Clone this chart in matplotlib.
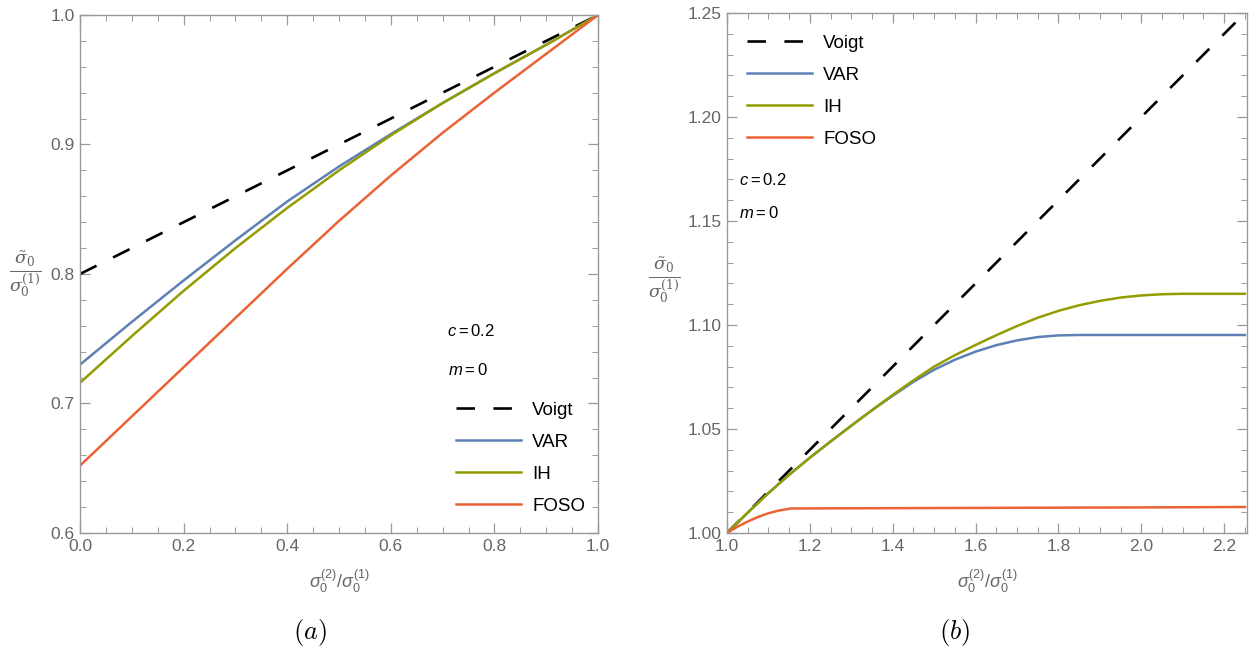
import matplotlib
matplotlib.use("Agg")
import matplotlib.pyplot as plt
from matplotlib.ticker import MultipleLocator, FormatStrFormatter

# ---------------- data ----------------
# panel (a)
xa = [0.0, 0.1, 0.2, 0.3, 0.4, 0.5, 0.6, 0.7, 0.8, 0.9, 1.0]
voigt_a_x = [0.0, 1.0]
voigt_a = [0.8, 1.0]
var_a = [0.730, 0.763, 0.795, 0.826, 0.856, 0.883, 0.908, 0.932, 0.955, 0.977, 1.0]
ih_a = [0.716, 0.752, 0.787, 0.820, 0.851, 0.880, 0.907, 0.932, 0.955, 0.977, 1.0]
foso_a = [0.652, 0.690, 0.728, 0.766, 0.804, 0.841, 0.876, 0.909, 0.940, 0.970, 1.0]

# panel (b)
xb = [1.0, 1.05, 1.1, 1.15, 1.2, 1.25, 1.3, 1.35, 1.4, 1.45, 1.5, 1.55, 1.6,
      1.65, 1.7, 1.75, 1.8, 1.85, 1.9, 1.95, 2.0, 2.05, 2.1, 2.2, 2.25]
voigt_b_x = [1.0, 2.25]
voigt_b = [1.0, 1.25]
var_b = [1.0, 1.0098, 1.0192, 1.0280, 1.0362, 1.0440, 1.0516, 1.0590, 1.0660,
         1.0727, 1.0785, 1.0833, 1.0872, 1.0903, 1.0926, 1.0942, 1.0950, 1.0952,
         1.0952, 1.0952, 1.0952, 1.0952, 1.0952, 1.0952, 1.0952]
ih_b = [1.0, 1.0098, 1.0192, 1.0280, 1.0362, 1.0440, 1.0516, 1.0591, 1.0664,
        1.0734, 1.0800, 1.0855, 1.0904, 1.0951, 1.0995, 1.1035, 1.1068, 1.1095,
        1.1116, 1.1132, 1.1142, 1.1148, 1.1150, 1.1150, 1.1150]
foso_b_x = [1.0, 1.025, 1.05, 1.075, 1.1, 1.125, 1.155, 1.5, 2.0, 2.25]
foso_b = [1.0, 1.0030, 1.0055, 1.0077, 1.0095, 1.0108, 1.0118, 1.0120, 1.0123, 1.0125]

labels = ["Voigt", "VAR", "IH", "FOSO"]
c_text = r"$c=0.2$"
m_text = r"$m=0$"

# ---------------- styling ----------------
C_VAR = "#5E81B5"
C_IH = "#939C00"
C_FOSO = "#EB6235"
FRAME = "#9a9a9a"
TXT = "#666666"

plt.rcParams["font.family"] = ["Liberation Sans", "DejaVu Sans"]
plt.rcParams["mathtext.fontset"] = "custom"
plt.rcParams["mathtext.rm"] = "Liberation Sans"
plt.rcParams["mathtext.it"] = "Liberation Sans:italic"

fig = plt.figure(figsize=(12.55, 6.57), dpi=100)
ax1 = fig.add_axes([80 / 1255, 124 / 657, 518 / 1255, 518 / 657])
ax2 = fig.add_axes([727 / 1255, 124 / 657, 520 / 1255, 520 / 657])

LW = 1.8


def style(ax, xmaj, xmin, ymaj, ymin, fmt_y, ylab_xy):
    for s in ax.spines.values():
        s.set_color(FRAME)
        s.set_linewidth(1.0)
    ax.xaxis.set_major_locator(MultipleLocator(xmaj))
    ax.xaxis.set_minor_locator(MultipleLocator(xmin))
    ax.yaxis.set_major_locator(MultipleLocator(ymaj))
    ax.yaxis.set_minor_locator(MultipleLocator(ymin))
    ax.xaxis.set_major_formatter(FormatStrFormatter("%.1f"))
    ax.yaxis.set_major_formatter(FormatStrFormatter(fmt_y))
    ax.tick_params(which="both", direction="in", top=True, right=True,
                   color=FRAME, labelcolor=TXT, labelsize=12.5)
    ax.tick_params(which="major", length=7, width=0.9, pad=4)
    ax.tick_params(which="minor", length=4, width=0.7)
    ax.set_xlabel(r"$\sigma_0^{(2)}/\sigma_0^{(1)}$", color=TXT, fontsize=13,
                  labelpad=10)
    ax.set_ylabel(r"$\frac{\tilde{\sigma}_0}{\sigma_0^{(1)}}$",
                  color=TXT, fontsize=18, rotation=0, va="center", ha="center",
                  math_fontfamily="dejavuserif")
    ax.yaxis.set_label_coords(*ylab_xy)


def draw(ax, vx, vy, x, var, ih, fx, foso):
    ax.plot(vx, vy, color="black", lw=LW + 0.1, dashes=(7, 7), label=labels[0])
    ax.plot(x, var, color=C_VAR, lw=LW, label=labels[1])
    ax.plot(x, ih, color=C_IH, lw=LW, label=labels[2])
    ax.plot(fx, foso, color=C_FOSO, lw=LW, label=labels[3])


draw(ax1, voigt_a_x, voigt_a, xa, var_a, ih_a, xa, foso_a)
draw(ax2, voigt_b_x, voigt_b, xb, var_b, ih_b, foso_b_x, foso_b)

ax1.set_xlim(0, 1)
ax1.set_ylim(0.6, 1.0)
ax2.set_xlim(1.0, 2.255)
ax2.set_ylim(1.0, 1.25)

style(ax1, 0.2, 0.05, 0.1, 0.02, "%.1f", ((25 - 80) / 518, 0.5))
style(ax2, 0.2, 0.05, 0.05, 0.01, "%.2f", ((664 - 727) / 520, 0.486))

leg_kw = dict(frameon=False, fontsize=13.5, handlelength=3.5, handletextpad=0.6,
              labelspacing=0.8, borderaxespad=0)

# panel (a) legend and annotations
ax1.legend(loc="upper left", bbox_to_anchor=(368 / 518, 1 - 379 / 518), **leg_kw)
ax1.text(367 / 518, 1 - 316 / 518, c_text, transform=ax1.transAxes,
         fontsize=12, va="center", ha="left")
ax1.text(368 / 518, 1 - 355 / 518, m_text, transform=ax1.transAxes,
         fontsize=12, va="center", ha="left")

# panel (b) legend and annotations
ax2.legend(loc="upper left", bbox_to_anchor=(12 / 520, 1 - 14 / 520), **leg_kw)
ax2.text(12 / 520, 1 - 167 / 520, c_text, transform=ax2.transAxes,
         fontsize=12, va="center", ha="left")
ax2.text(12 / 520, 1 - 200 / 520, m_text, transform=ax2.transAxes,
         fontsize=12, va="center", ha="left")

# sub-figure captions
fig.text(310 / 1255, 1 - 633 / 657, r"$(a)$", fontsize=19, ha="center",
         va="center", math_fontfamily="cm")
fig.text(955 / 1255, 1 - 633 / 657, r"$(b)$", fontsize=19, ha="center",
         va="center", math_fontfamily="cm")

fig.savefig("out.png", dpi=100)
